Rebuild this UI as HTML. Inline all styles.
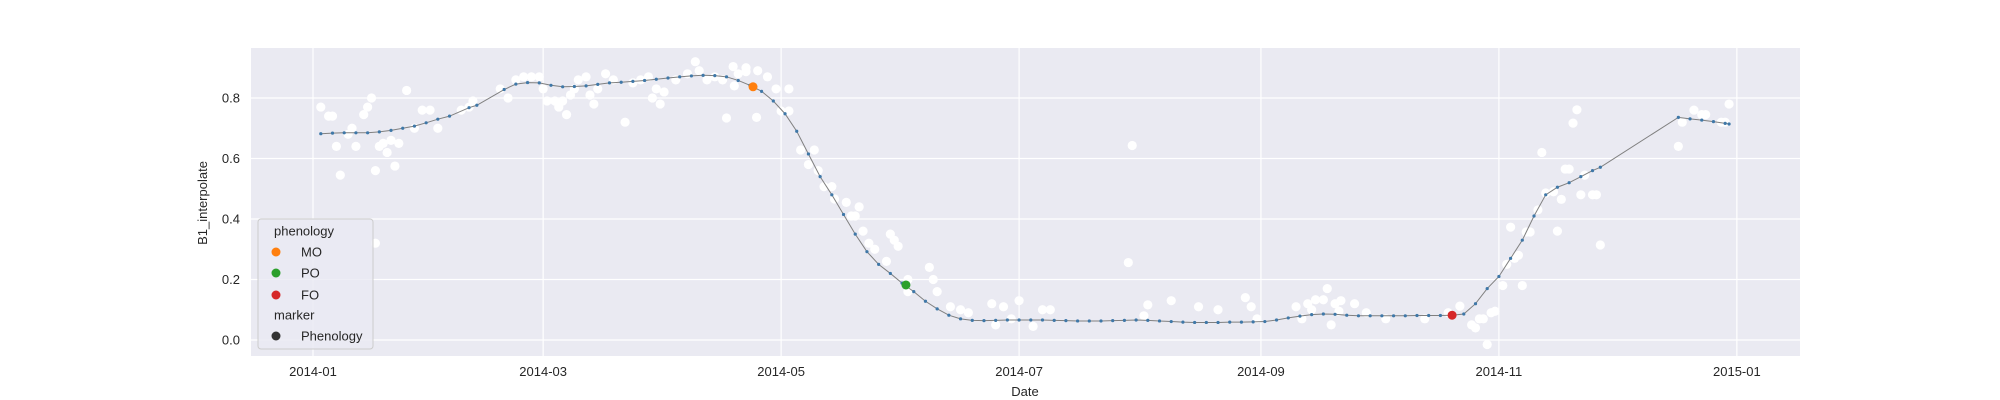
<!DOCTYPE html>
<html><head><meta charset="utf-8"><style>
html,body{margin:0;padding:0;background:#fff;}
svg{display:block;font-family:"Liberation Sans",sans-serif;}
</style></head><body>
<svg id="chart" width="2000" height="400" viewBox="0 0 2000 400">
<rect x="251" y="48" width="1549" height="308" fill="#eaeaf2"/>
<g id="grid"></g><g id="ticks"></g><g id="series"></g><g id="legend"></g>
<text x="1025" y="396" text-anchor="middle" font-size="13" fill="#262626">Date</text>
<text transform="translate(207,203) rotate(-90)" text-anchor="middle" font-size="13" fill="#262626">B1_interpolate</text>
</svg>
<script>
const xTickLabels=["2014-01","2014-03","2014-05","2014-07","2014-09","2014-11","2015-01"];
const xTickDays=[0,59,120,181,243,304,365];
const yTicks=[0,0.2,0.4,0.6,0.8];
const curveDays=[[2,5,8,11,14,17,20,23,26,29,32,35],[40,42],
[49,52,55,58,61,64,67,70,73,76,79,82,85,88,91,94,97,100,103,106,109,112,115,118,121,124,127,130,133,136,139,142,145,148,151,154,157,160,163,166,169,172,175,178,181,184,187,190,193,196,199,202,205,208,211,214,217,220,223,226,229,232,235,238,241,244,247,250,253,256,259,262,265,268,271,274,277,280,283,286,289,292,295,298,301,304,307,310,313,316,319,322,325,328,330],
[350,353,356,359,362,363]];
const curveVals=[[.682,.684,.685,.685,.685,.688,.693,.700,.707,.718,.730,.740],[.768,.776],
[.828,.846,.851,.850,.842,.837,.838,.840,.845,.850,.852,.855,.858,.862,.866,.870,.873,.875,.874,.870,.858,.842,.822,.790,.748,.690,.615,.540,.480,.415,.350,.292,.250,.220,.188,.160,.128,.103,.082,.070,.065,.064,.065,.066,.066,.066,.066,.065,.064,.063,.063,.063,.064,.065,.066,.065,.063,.061,.059,.058,.058,.058,.059,.059,.060,.061,.066,.073,.079,.084,.086,.085,.082,.080,.080,.080,.080,.080,.081,.081,.081,.082,.086,.12,.17,.21,.27,.33,.41,.48,.505,.52,.54,.56,.571],
[.736,.731,.727,.722,.716,.714]];
const scatterDays=[2,4,5,6,7,9,10,11,13,14,15,16,16,17,18,19,20,21,22,24,26,28,30,32,38,40,41,48,50,52,54,56,58,59,60,62,63,64,65,66,67,68,70,71,72,73,75,77,80,82,84,86,87,88,89,90,93,96,98,99,101,103,105,106,107.7,108,109,111,111,113.7,114,116.5,118.7,120,122,122,125,127,128.5,129.5,131,133,133.7,136.7,138,139,140,141,142.5,144,147,148,149,150,152.5,152.5,158,159,160,163.4,166,168,174,175,177,179,181,184.6,187,189,209,210,213,214,220,227,232,239,240.5,242,252,253.5,255,256,257,259,260,261,262,263,263.5,267,270,275,285,291,294,297,298,299,300,301,302,303,305,306,307,308,309,310,311,312,314,315,316,318,319,320,321,322,323,324,325,326,328,329,330,350,351,354,356,357,361,362,363];
const scatterVals=[.77,.74,.74,.64,.545,.68,.70,.64,.745,.77,.80,.56,.32,.64,.65,.62,.66,.575,.65,.825,.70,.76,.76,.70,.76,.77,.79,.83,.80,.86,.87,.87,.87,.83,.79,.79,.77,.79,.745,.81,.83,.86,.87,.81,.78,.83,.88,.86,.72,.85,.86,.87,.80,.83,.78,.82,.86,.88,.92,.89,.86,.87,.86,.734,.904,.84,.88,.887,.90,.736,.89,.87,.83,.757,.83,.757,.628,.58,.628,.56,.507,.507,.466,.455,.41,.41,.44,.36,.32,.30,.26,.35,.33,.31,.20,.16,.24,.20,.16,.11,.10,.09,.12,.05,.11,.07,.13,.045,.10,.10,.256,.643,.08,.116,.13,.11,.10,.14,.11,.07,.11,.07,.12,.10,.133,.133,.17,.05,.12,.095,.13,.12,.09,.07,.07,.09,.112,.05,.04,.07,.07,-.015,.09,.095,.18,.25,.373,.27,.28,.18,.357,.357,.43,.62,.486,.49,.36,.465,.565,.565,.717,.761,.48,.545,.48,.48,.314,.64,.72,.76,.745,.745,.72,.72,.78,.584];
const phenoNames=["MO","PO","FO"];
const phenoDays=[112.8,152,292];
const phenoVals=[.837,.182,.082];
const phenoColors=["#ff7f0e","#2ca02c","#d62728"];

const X0=313,PXD=3.901,Y0=340,PXU=302.5;
function xs(d){return X0+d*PXD;}
function ys(v){return Y0-v*PXU;}
const NS="http://www.w3.org/2000/svg";
function mk(tag,attrs,parent){const e=document.createElementNS(NS,tag);for(const k in attrs)e.setAttribute(k,attrs[k]);parent.appendChild(e);return e;}
const grid=document.getElementById('grid'),ticks=document.getElementById('ticks'),series=document.getElementById('series'),legend=document.getElementById('legend');
xTickDays.forEach((d,i)=>{
 const l=mk('line',{x1:xs(d),x2:xs(d),y1:48,y2:356,stroke:'#fff','stroke-width':1.2},grid);
 
 
 const t=mk('text',{x:xs(d),y:376,'text-anchor':'middle','font-size':13,fill:'#262626'},ticks);
 t.textContent=xTickLabels[i];
 
 
});
yTicks.forEach(v=>{
 const l=mk('line',{x1:251,x2:1800,y1:ys(v),y2:ys(v),stroke:'#fff','stroke-width':1.2},grid);
 
 
 const t=mk('text',{x:240,y:ys(v)+4.5,'text-anchor':'end','font-size':13,fill:'#262626'},ticks);
 t.textContent=v.toFixed(1);
 
 
});
scatterDays.forEach((d,i)=>{
 const c=mk('circle',{cx:xs(d),cy:ys(scatterVals[i]),r:4.6,fill:'#fff'},series);
 
 
});
let pts=[];
curveDays.forEach((seg,s)=>seg.forEach((d,i)=>pts.push(xs(d)+','+ys(curveVals[s][i]))));
const pl=mk('polyline',{points:pts.join(' '),fill:'none',stroke:'#808080','stroke-width':1},series);


curveDays.forEach((seg,s)=>seg.forEach((d,i)=>{
 const c=mk('circle',{cx:xs(d),cy:ys(curveVals[s][i]),r:1.6,fill:'#3f78a8'},series);
 
 
}));
phenoDays.forEach((d,i)=>{
 const c=mk('circle',{cx:xs(d),cy:ys(phenoVals[i]),r:4.5,fill:phenoColors[i]},series);
 
 
});
const box=mk('rect',{x:258,y:219,width:115,height:130,rx:3,fill:'#eaeaf2','fill-opacity':0.8,stroke:'#cccccc','stroke-width':1},legend);


const entries=[["phenology",231,null,true],["MO",252,"#ff7f0e"],["PO",273,"#2ca02c"],["FO",295,"#d62728"],["marker",315,null,true],["Phenology",336,"#333333"]];
entries.forEach(e=>{
 const t=mk('text',{x:e[3]?274:301,y:e[1]+4.5,'font-size':13,fill:'#262626'},legend);
 t.textContent=e[0];
 
 
 if(e[2]){const c=mk('circle',{cx:276,cy:e[1],r:4.5,fill:e[2]},legend);
 
 }
});
</script>
</body></html>
